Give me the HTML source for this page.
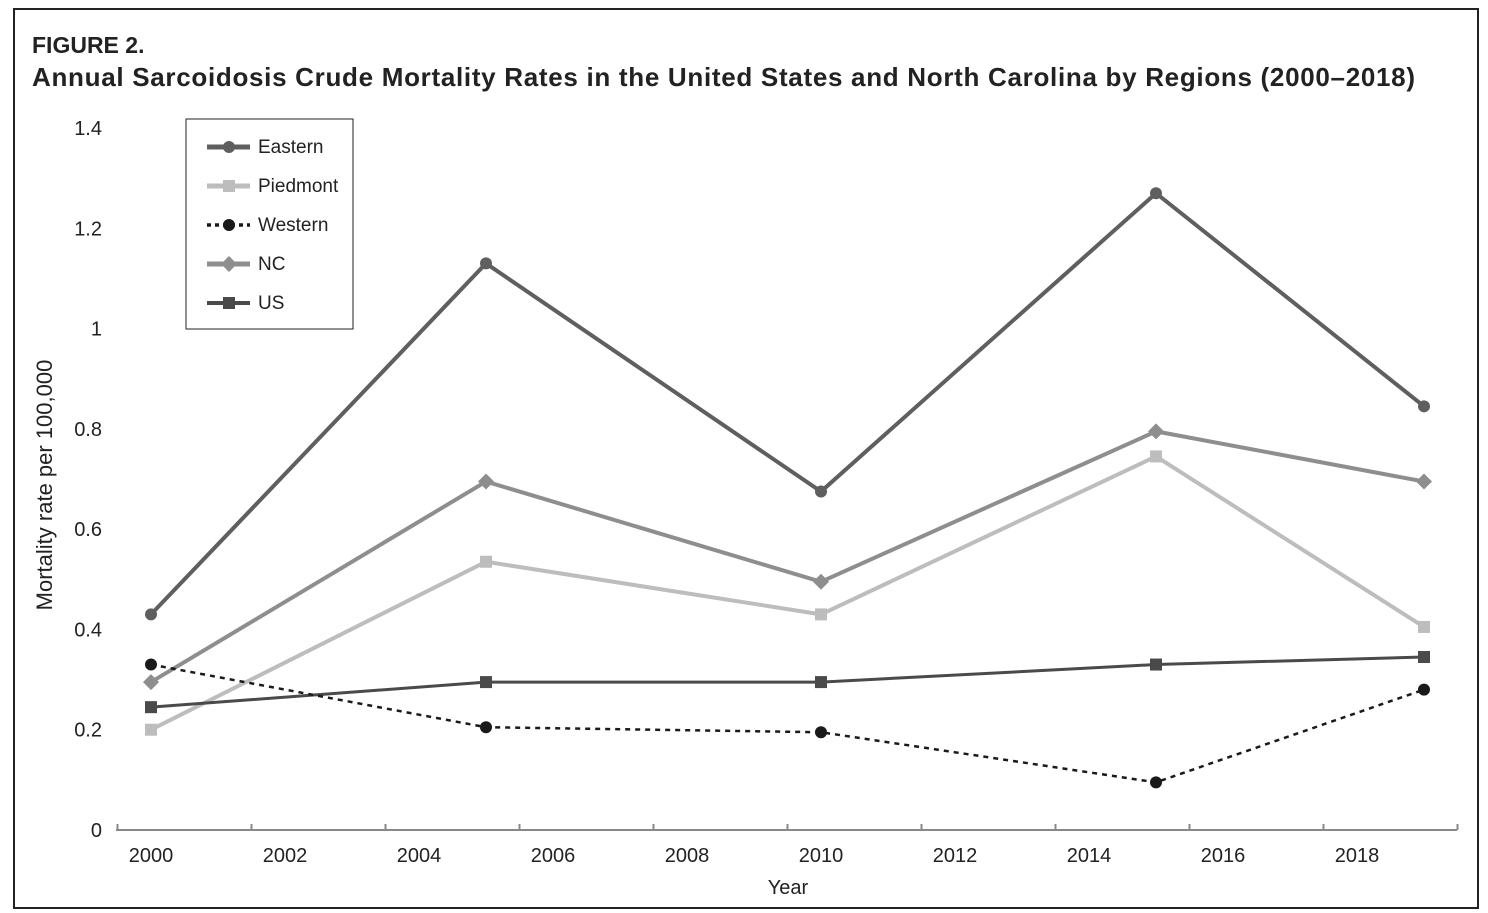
<!DOCTYPE html>
<html><head><meta charset="utf-8"><style>
body{margin:0;background:#fff;width:1488px;height:913px;overflow:hidden;font-family:"Liberation Sans",sans-serif}
svg{position:absolute;left:0;top:0}
</style></head><body>
<svg width="1488" height="913">
<rect x="14" y="9" width="1464" height="899" fill="#fff" stroke="#222" stroke-width="2"/>
<text x="32" y="53" font-size="23" font-weight="bold" fill="#222">FIGURE 2.</text>
<text x="32" y="86" font-size="26" font-weight="bold" fill="#222" textLength="1383">Annual Sarcoidosis Crude Mortality Rates in the United States and North Carolina by Regions (2000–2018)</text>
<g id="axes"></g>
<g id="series"></g>
<text transform="translate(52,485) rotate(-90)" text-anchor="middle" font-size="22" fill="#222">Mortality rate per 100,000</text>
<text x="788" y="894" text-anchor="middle" font-size="20" fill="#222">Year</text>
<rect x="186" y="119" width="167" height="210" fill="#fff" stroke="#222" stroke-width="1"/>
<g id="legend"></g>
</svg>
<script>
const years=[2000,2005,2010,2015,2019];
const eastern=[0.43,1.13,0.675,1.27,0.845];
const piedmont=[0.2,0.535,0.43,0.745,0.405];
const western=[0.33,0.205,0.195,0.095,0.28];
const nc=[0.295,0.695,0.495,0.795,0.695];
const us=[0.245,0.295,0.295,0.33,0.345];
const yTicks=[0,0.2,0.4,0.6,0.8,1,1.2,1.4];
const xLabels=[2000,2002,2004,2006,2008,2010,2012,2014,2016,2018];
const NS="http://www.w3.org/2000/svg";
const X=y=>151+(y-2000)*67;
const Y=v=>830-v*501.4;
function mk(tag,attrs,parent,txt){const e=document.createElementNS(NS,tag);for(const k in attrs)e.setAttribute(k,attrs[k]);if(txt!=null)e.textContent=txt;parent.appendChild(e);return e;}
const ax=document.getElementById('axes');
let l=mk('line',{x1:116,x2:1457,y1:830,y2:830,stroke:'#888','stroke-width':2},ax);


for(let yr=1999.5;yr<=2019.6;yr+=2){const t=mk('line',{x1:X(yr),x2:X(yr),y1:824,y2:830,stroke:'#888','stroke-width':2},ax);

}
xLabels.forEach(v=>{const t=mk('text',{x:X(v),y:862,'text-anchor':'middle','font-size':20,fill:'#222'},ax,String(v));

});
yTicks.forEach(v=>{const t=mk('text',{x:102,y:Y(v)+7,'text-anchor':'end','font-size':20,fill:'#222'},ax,String(v));

});
const defs=[
 {name:'eastern',label:'Eastern',data:eastern,color:'#5f5f5f',w:4,dash:null,marker:'circle'},
 {name:'nc',label:'NC',data:nc,color:'#8e8e8e',w:4,dash:null,marker:'diamond'},
 {name:'piedmont',label:'Piedmont',data:piedmont,color:'#bdbdbd',w:4,dash:null,marker:'square'},
 {name:'us',label:'US',data:us,color:'#4a4a4a',w:3,dash:null,marker:'square'},
 {name:'western',label:'Western',data:western,color:'#1a1a1a',w:2.5,dash:'5,5',marker:'circle'}];
const sg=document.getElementById('series');
function marker(type,x,y,color,parent,size){
 let m;
 if(type==='circle')m=mk('circle',{cx:x,cy:y,r:size,fill:color},parent);
 else if(type==='square')m=mk('rect',{x:x-size,y:y-size,width:size*2,height:size*2,fill:color},parent);
 else m=mk('polygon',{points:`${x},${y-size-2} ${x+size+2},${y} ${x},${y+size+2} ${x-size-2},${y}`,fill:color},parent);
 return m;}
defs.forEach(d=>{
 const pts=d.data.map((v,i)=>X(years[i])+','+Y(v)).join(' ');
 const a={points:pts,fill:'none',stroke:d.color,'stroke-width':d.w};if(d.dash)a['stroke-dasharray']=d.dash;
 const p=mk('polyline',a,sg);
 
 
 d.data.forEach((v,i)=>{const m=marker(d.marker,X(years[i]),Y(v),d.color,sg,6);
 
 });
});
const lg=document.getElementById('legend');
const order=['eastern','piedmont','western','nc','us'];
order.forEach((n,i)=>{const d=defs.find(e=>e.name===n);const y=147+i*39;
 const a={x1:207,x2:250,y1:y,y2:y,stroke:d.color,'stroke-width':d.w+1};if(d.dash)a['stroke-dasharray']='4,4';
 const li=mk('line',a,lg);
 
 
 marker(d.marker,229,y,d.color,lg,6);
 const t=mk('text',{x:258,y:y+6,'font-size':19,fill:'#222'},lg,d.label);
 
 });
</script>
</body></html>
